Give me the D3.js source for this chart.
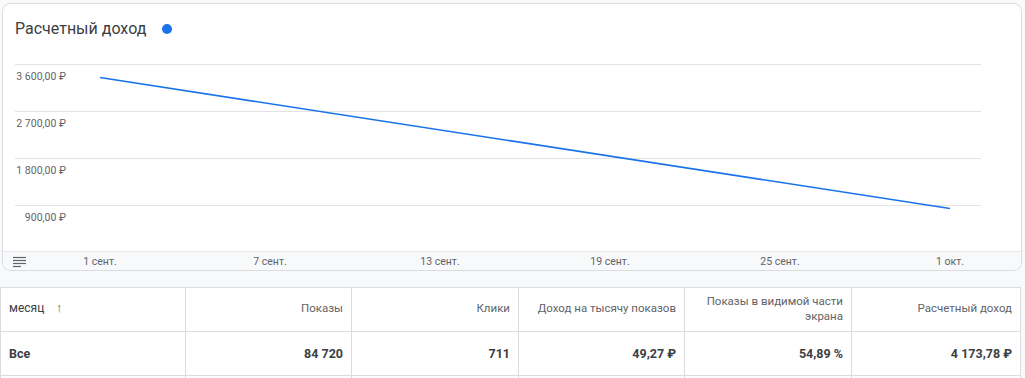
<!DOCTYPE html>
<html lang="ru">
<head>
<meta charset="UTF-8">
<title>Расчетный доход</title>
<script src="https://cdn.jsdelivr.net/npm/d3@7"></script>
<style>
  body { margin: 0; background: #f8f9fa; font-family: Roboto, "Noto Sans", sans-serif; }
</style>
</head>
<body>
<svg id="svg" width="1025" height="378"></svg>
<script>
  // monthly values of estimated income
  const months = [new Date(2023, 8, 1), new Date(2023, 9, 1)]
  const income = [3340.00, 833.78]
  const yTicks = [900, 1800, 2700, 3600]
  const xTickDays = [new Date(2023, 8, 1), new Date(2023, 8, 7), new Date(2023, 8, 13),
                     new Date(2023, 8, 19), new Date(2023, 8, 25), new Date(2023, 9, 1)]
  const xTickLabels = ["1 сент.", "7 сент.", "13 сент.", "19 сент.", "25 сент.", "1 окт."]

  // table
  const columns = ["месяц", "Показы", "Клики", "Доход на тысячу показов", "Показы в видимой части|экрана", "Расчетный доход"]
  const totals = ["Все", "84 720", "711", "49,27 ₽", "54,89 %", "4 173,78 ₽"]

  const svg = d3.select("#svg")
  const fmt = v => d3.format(",.2f")(v).replace(/,/g, " ").replace(".", ",") + " ₽"

  // card
  svg.append("rect").attr("x", 2.5).attr("y", 3.5).attr("width", 1019).attr("height", 267)
    .attr("rx", 8).attr("fill", "#fff").attr("stroke", "#dadce0")
  svg.append("text").attr("x", 15).attr("y", 34).text("Расчетный доход")
    .attr("font-size", 16).attr("fill", "#3c4043")
  svg.append("circle").attr("cx", 167).attr("cy", 29).attr("r", 5).attr("fill", "#1a73e8")

  const x = d3.scaleTime().domain([months[0], months[1]]).range([100, 950])
  const y = d3.scaleLinear().domain([0, 3600]).range([252, 64])

  // grid
  const grid = svg.append("g")
  grid.selectAll("line").data(yTicks).join("line")
    .attr("x1", 15).attr("x2", 981)
    .attr("y1", d => y(d) + 0.5).attr("y2", d => y(d) + 0.5)
    .attr("stroke", "#e3e3e3")
  grid.selectAll("text").data(yTicks).join("text")
    .attr("x", 66).attr("y", d => y(d) + 16)
    .attr("text-anchor", "end").attr("font-size", 10.5).attr("fill", "#5f6368")
    .text(d => fmt(d))

  // x axis band
  svg.append("path").attr("d", "M3,251 H1021 V262 a8,8 0 0 1 -8,8 H11 a8,8 0 0 1 -8,-8 Z")
    .attr("fill", "#f8f9fa")
  svg.append("line").attr("x1", 3).attr("x2", 1021).attr("y1", 251.5).attr("y2", 251.5).attr("stroke", "#e8eaed")
  const icon = svg.append("g").attr("stroke", "#5f6368").attr("stroke-width", 1.2)
  ;[257.5, 260.5, 263.5, 266.5].forEach((yy, i) => {
    icon.append("line").attr("x1", 13).attr("x2", i === 3 ? 21 : 26).attr("y1", yy).attr("y2", yy)
  })
  svg.append("g").selectAll("text").data(xTickDays).join("text")
    .attr("x", d => x(d)).attr("y", 265)
    .attr("text-anchor", "middle").attr("font-size", 10.5).attr("fill", "#5f6368")
    .text((d, i) => xTickLabels[i])

  // line
  const line = d3.line().x((d, i) => x(months[i])).y(d => y(d))
  svg.append("path").datum(income).attr("d", line)
    .attr("fill", "none").attr("stroke", "#1a73e8").attr("stroke-width", 1.6)

  // table
  const colX = [0, 185, 351, 518, 684, 851, 1020]
  const tbl = svg.append("g")
  tbl.append("rect").attr("x", 0.5).attr("y", 287.5).attr("width", 1020).attr("height", 100)
    .attr("fill", "#fff").attr("stroke", "#dadce0")
  ;[331.5, 375.5].forEach(yy => tbl.append("line").attr("x1", 0).attr("x2", 1021)
    .attr("y1", yy).attr("y2", yy).attr("stroke", "#dadce0"))
  colX.slice(1, -1).forEach(cx => tbl.append("line").attr("x1", cx + 0.5).attr("x2", cx + 0.5)
    .attr("y1", 288).attr("y2", 378).attr("stroke", "#dadce0"))

  columns.forEach((c, i) => {
    if (i === 0) {
      tbl.append("text").attr("x", 9).attr("y", 312).attr("font-size", 12)
        .attr("fill", "#3c4043").text(c)
      tbl.append("text").attr("x", 56).attr("y", 312).attr("font-size", 13)
        .attr("fill", "#5f6368").text("↑")
    } else {
      const lines = c.split("|")
      const t = tbl.append("text").attr("x", colX[i + 1] - 8)
        .attr("y", lines.length > 1 ? 305 : 312)
        .attr("text-anchor", "end").attr("font-size", 11.5).attr("fill", "#5f6368")
      lines.forEach((l, j) => t.append("tspan").attr("x", colX[i + 1] - 8).attr("dy", j ? 15 : 0).text(l))
    }
  })
  totals.forEach((v, i) => {
    tbl.append("text").attr("x", i === 0 ? 9 : colX[i + 1] - 8).attr("y", 358)
      .attr("text-anchor", i === 0 ? "start" : "end")
      .attr("font-size", 12.5).attr("font-weight", "bold").attr("fill", "#3c4043").text(v)
  })
</script>
</body>
</html>
